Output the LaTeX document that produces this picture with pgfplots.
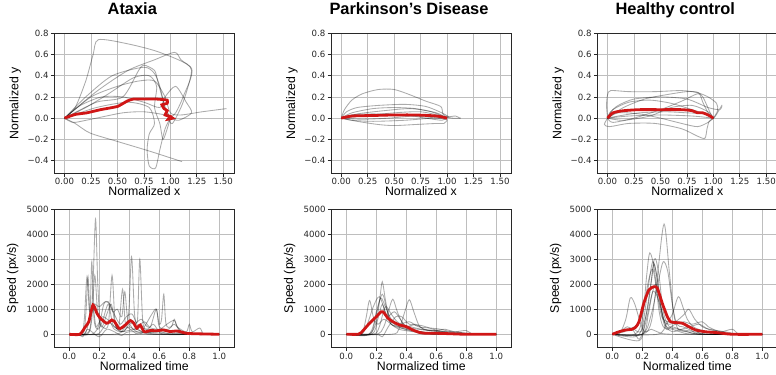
\documentclass[border=0pt]{standalone}
\usepackage{pgfplots}
\pgfplotsset{compat=1.18}
\usepackage{fontspec}
\setmainfont{Liberation Sans}
\newfontfamily\tickfamily{DejaVu Sans}

\definecolor{meanred}{RGB}{208,22,22}
\definecolor{gridgray}{RGB}{190,190,190}
\definecolor{spine}{RGB}{40,40,40}

\pgfplotsset{
  panel/.style={
    scale only axis, width=180bp,
    axis line style={spine, line width=0.8bp},
    grid=major, grid style={gridgray, line width=0.8bp},
    tick align=outside, major tick length=3.5bp, tick pos=left,
    tick style={spine, line width=0.8bp},
    /pgf/number format/assume math mode=true,
    ticklabel style={font=\tickfamily\fontsize{8.6bp}{10bp}\selectfont, text=black!85},
    xticklabel style={anchor=base, inner sep=0pt},
    yticklabel style={anchor=east, inner sep=0pt, xshift=-2bp},
    label style={font=\fontsize{12.3bp}{14bp}\selectfont},
    title style={font=\bfseries\fontsize{16.4bp}{18bp}\selectfont,
      at={(0.5,1)}, anchor=base, yshift=12.8bp, xshift=-12bp},
    clip=true,
  },
  trajrow/.style={panel, height=140bp,
    xmin=-0.097, xmax=1.604, ymin=-0.52, ymax=0.8,
    xtick={0,0.25,0.5,0.75,1,1.25,1.5},
    xticklabels={0.00,0.25,0.50,0.75,1.00,1.25,1.50},
    ytick={-0.4,-0.2,0,0.2,0.4,0.6,0.8},
    yticklabels={−0.4,−0.2,0.0,0.2,0.4,0.6,0.8},
    xticklabel style={yshift=-7.5bp},
    xlabel={Normalized x}, ylabel={Normalized y},
    xlabel style={at={(0.5,0)}, anchor=base, yshift=-22.5bp},
    ylabel style={at={(-0.2167,0.5)}, anchor=center},
  },
  speedrow/.style={panel, height=138.3bp,
    xmin=-0.1, xmax=1.1, ymin=-520, ymax=5000,
    xtick={0,0.2,0.4,0.6,0.8,1},
    xticklabels={0.0,0.2,0.4,0.6,0.8,1.0},
    ytick={0,1000,2000,3000,4000,5000},
    yticklabels={0,1000,2000,3000,4000,5000},
    xticklabel style={yshift=-8.8bp},
    xlabel={Normalized time}, ylabel={Speed (px/s)},
    xlabel style={at={(0.5,0)}, anchor=base, yshift=-23.4bp},
    ylabel style={at={(-0.2306,0.5)}, anchor=center},
  },
  trial/.style={black, opacity=0.33, line width=0.85bp, smooth, tension=0.45, mark=none},
  spd/.style={black, opacity=0.33, line width=0.85bp, smooth, tension=0.5, mark=none},
  mean/.style={meanred, line width=2.8bp, smooth, tension=0.4, mark=none},
}

\begin{document}
\begin{tikzpicture}

% ---------------- Ataxia: trajectories ----------------
\begin{axis}[trajrow, title={Ataxia}, at={(54.3bp,-173.3bp)}, anchor=south west]
\addplot[trial] coordinates {(0,0)(0.1,0.1)(0.2,0.35)(0.27,0.6)(0.32,0.74)(0.6,0.7)(0.9,0.62)(1.2,0.47)(1.12,0.2)(1.05,0.05)(1.0,0.0)};
\addplot[trial] coordinates {(0,0)(0.3,0.25)(0.6,0.45)(0.85,0.55)(1.04,0.62)(1.1,0.55)(1.2,0.45)(1.12,0.15)(1.02,-0.05)(0.98,0.0)};
\addplot[trial] coordinates {(0,0)(0.2,0.2)(0.45,0.4)(0.75,0.48)(0.85,0.42)(0.9,0.3)(0.95,0.1)(1.0,0.0)};
\addplot[trial] coordinates {(0,0)(0.25,0.2)(0.5,0.3)(0.7,0.35)(0.85,0.35)(0.95,0.2)(1.0,0.05)(1.1,0.03)(1.3,0.06)(1.53,0.09)};
\addplot[trial] coordinates {(0,0)(0.1,-0.05)(0.24,-0.14)(0.5,-0.22)(0.8,-0.31)(1.11,-0.41)};
\addplot[trial] coordinates {(0,0)(0.3,0.1)(0.6,0.15)(0.8,0.1)(0.85,-0.05)(0.8,-0.15)(0.78,-0.3)(0.8,-0.45)(0.86,-0.47)(0.9,-0.3)(0.95,-0.1)(1.0,0.0)};
\addplot[trial] coordinates {(0,0)(0.15,0.12)(0.35,0.2)(0.55,0.2)(0.75,0.15)(0.9,0.1)(0.95,0.2)(1.05,0.3)(1.15,0.15)(1.2,0.05)(1.08,-0.02)(1.0,0.0)};
\addplot[trial] coordinates {(0,0)(0.2,0.1)(0.4,0.22)(0.65,0.38)(0.8,0.4)(0.87,0.3)(0.85,0.1)(0.9,-0.05)(0.93,-0.2)(0.97,-0.1)(1.0,0.0)};
\addplot[trial] coordinates {(0,0)(0.05,-0.03)(0.1,-0.04)(0.3,0.0)(0.55,0.05)(0.75,0.06)(0.95,0.03)(1.0,0.0)};
\addplot[trial] coordinates {(0,0)(0.3,0.15)(0.55,0.2)(0.7,0.45)(0.75,0.5)(0.85,0.45)(0.88,0.35)(0.95,0.1)(1.0,0.0)};
\addplot[mean, tension=0.2] coordinates {(0,0)(0.1,0.035)(0.21,0.05)(0.34,0.08)(0.5,0.11)(0.59,0.16)(0.65,0.18)(0.87,0.18)(0.97,0.17)(0.97,0.14)(0.92,0.126)(0.94,0.09)(0.97,0.07)(0.95,0.03)(1.0,0.016)(0.98,-0.01)(1.02,0.0)(1.0,0.01)};
\end{axis}

% ---------------- Parkinson's: trajectories ----------------
\begin{axis}[trajrow, title={Parkinson’s Disease}, at={(331bp,-173.3bp)}, anchor=south west]
\addplot[trial] coordinates {(0,0)(0.03,0.08)(0.1,0.17)(0.2,0.23)(0.35,0.27)(0.5,0.27)(0.65,0.22)(0.8,0.16)(0.94,0.11)(0.96,0.04)(1.0,0.01)};
\addplot[trial] coordinates {(0,0)(0.05,0.06)(0.15,0.1)(0.35,0.12)(0.6,0.13)(0.8,0.11)(0.95,0.05)(1.02,0.01)};
\addplot[trial] coordinates {(0,0)(0.1,0.05)(0.3,0.09)(0.5,0.1)(0.7,0.09)(0.9,0.05)(1.0,0.0)};
\addplot[trial] coordinates {(0,0)(0.15,-0.03)(0.35,-0.06)(0.5,-0.07)(0.7,-0.06)(0.9,-0.05)(0.97,-0.05)(1.0,-0.02)};
\addplot[trial] coordinates {(0,0)(0.2,0.02)(0.5,0.05)(0.75,0.06)(0.95,0.02)(1.05,0.0)(1.13,0.0)};
\addplot[trial] coordinates {(0,0)(0.1,-0.02)(0.3,-0.03)(0.6,-0.02)(0.85,0.0)(1.0,0.01)(1.08,0.02)(1.12,0.0)};
\addplot[trial] coordinates {(0,0)(0.15,0.04)(0.4,0.07)(0.65,0.09)(0.85,0.06)(1.0,0.0)};
\addplot[trial] coordinates {(0,0)(0.2,-0.01)(0.45,0.0)(0.7,0.02)(0.9,0.0)(1.0,-0.01)};
\addplot[trial] coordinates {(0,0)(0.1,0.03)(0.3,0.04)(0.6,0.03)(0.8,0.0)(0.95,-0.02)(1.0,0.0)};
\addplot[mean] coordinates {(0,0)(0.1,0.02)(0.3,0.025)(0.5,0.03)(0.7,0.03)(0.9,0.02)(1.0,0.0)};
\end{axis}

% ---------------- Healthy control: trajectories ----------------
\begin{axis}[trajrow, title={Healthy control}, at={(597.3bp,-173.3bp)}, anchor=south west]
\addplot[trial] coordinates {(0,0)(-0.01,0.12)(0.0,0.22)(0.03,0.26)(0.2,0.25)(0.45,0.25)(0.7,0.26)(0.85,0.24)(0.95,0.2)(1.03,0.14)(1.04,0.07)(1.0,0.0)};
\addplot[trial] coordinates {(0,0)(-0.03,-0.06)(0.02,-0.08)(0.2,-0.05)(0.45,-0.05)(0.7,-0.1)(0.85,-0.17)(0.92,-0.19)(0.94,-0.1)(0.96,-0.03)(1.0,0.0)};
\addplot[trial] coordinates {(0,0)(0.15,0.1)(0.35,0.18)(0.55,0.22)(0.75,0.25)(0.86,0.24)(0.9,0.15)(0.95,0.05)(1.0,0.0)};
\addplot[trial] coordinates {(0,0)(0.05,-0.04)(0.25,0.0)(0.5,0.08)(0.7,0.16)(0.85,0.23)(0.9,0.2)(0.97,0.05)(1.0,0.0)};
\addplot[trial] coordinates {(0,0)(0.05,0.08)(0.2,0.15)(0.4,0.17)(0.6,0.14)(0.8,0.08)(0.95,0.03)(1.0,0.0)};
\addplot[trial] coordinates {(0,0)(0.2,0.02)(0.5,0.03)(0.8,0.02)(1.0,0.0)};
\addplot[trial] coordinates {(0,0)(0.1,0.05)(0.3,0.04)(0.5,0.0)(0.7,-0.05)(0.85,-0.08)(0.95,-0.04)(1.0,0.0)};
\addplot[trial] coordinates {(0,0)(0.02,0.05)(0.1,0.12)(0.25,0.18)(0.5,0.2)(0.75,0.18)(0.95,0.1)(1.06,0.08)(1.08,0.12)(1.02,0.02)(1.0,0.0)};
\addplot[trial] coordinates {(0,0)(0.1,0.02)(0.3,0.05)(0.55,0.06)(0.75,0.05)(0.92,0.04)(1.0,0.0)};
\addplot[trial] coordinates {(0,0)(0.15,-0.02)(0.4,0.02)(0.6,0.1)(0.8,0.12)(0.95,0.06)(1.0,0.0)};
\addplot[mean] coordinates {(0,0)(0.05,0.05)(0.15,0.07)(0.3,0.08)(0.5,0.08)(0.7,0.08)(0.8,0.07)(0.85,0.05)(0.9,0.05)(0.95,0.03)(1.0,0.0)};
\end{axis}

% ---------------- Ataxia: speed ----------------
\begin{axis}[speedrow, at={(54.3bp,-347.3bp)}, anchor=south west]
\addplot[spd] coordinates {(0,0)(0.1,0)(0.14,300)(0.158,2000)(0.175,4600)(0.19,2000)(0.21,300)(0.25,800)(0.28,1200)(0.31,300)(0.35,100)(0.4,300)(0.45,100)(0.5,50)(0.6,100)(0.7,0)(1,0)};
\addplot[spd] coordinates {(0,0)(0.09,0)(0.11,800)(0.125,2300)(0.138,800)(0.15,2900)(0.165,600)(0.19,200)(0.22,500)(0.26,1200)(0.29,400)(0.33,200)(0.38,300)(0.43,100)(0.5,0)(1,0)};
\addplot[spd] coordinates {(0,0)(0.12,0)(0.15,600)(0.17,2350)(0.19,800)(0.22,300)(0.26,400)(0.285,2350)(0.305,500)(0.33,300)(0.355,1800)(0.375,400)(0.41,600)(0.45,200)(0.5,100)(0.6,0)(1,0)};
\addplot[spd] coordinates {(0,0)(0.3,0)(0.36,200)(0.395,800)(0.415,3100)(0.435,800)(0.455,600)(0.47,3000)(0.49,500)(0.52,200)(0.56,400)(0.6,100)(0.65,0)(1,0)};
\addplot[spd] coordinates {(0,0)(0.45,0)(0.5,300)(0.55,800)(0.58,1000)(0.6,400)(0.615,600)(0.63,1600)(0.645,400)(0.68,300)(0.7,600)(0.72,300)(0.78,100)(0.8,400)(0.82,100)(0.87,250)(0.9,0)(1,0)};
\addplot[spd] coordinates {(0,0)(0.1,0)(0.13,500)(0.16,1200)(0.2,1100)(0.24,1300)(0.27,1200)(0.3,800)(0.34,400)(0.38,700)(0.42,800)(0.46,300)(0.52,200)(0.6,150)(0.7,100)(0.8,0)(1,0)};
\addplot[spd] coordinates {(0,0)(0.15,0)(0.2,400)(0.23,1200)(0.26,1300)(0.29,900)(0.32,1000)(0.35,700)(0.37,1700)(0.39,600)(0.43,400)(0.48,600)(0.52,300)(0.6,200)(0.65,400)(0.7,550)(0.73,200)(0.8,0)(1,0)};
\addplot[spd] coordinates {(0,0)(0.08,0)(0.1,600)(0.118,2300)(0.135,900)(0.16,1000)(0.18,300)(0.22,700)(0.27,500)(0.3,200)(0.35,100)(0.45,200)(0.55,0)(1,0)};
\addplot[spd] coordinates {(0,0)(0.18,0)(0.22,200)(0.26,500)(0.3,300)(0.36,100)(0.4,400)(0.43,200)(0.5,500)(0.54,300)(0.58,1000)(0.6,300)(0.66,200)(0.7,400)(0.75,100)(0.85,0)(1,0)};
\addplot[spd] coordinates {(0,0)(0.06,0)(0.09,-100)(0.12,200)(0.15,100)(0.2,-100)(0.25,200)(0.3,100)(0.35,-50)(0.4,100)(0.6,50)(1,0)};
\addplot[mean] coordinates {(0,0)(0.07,0)(0.107,300)(0.13,500)(0.158,1170)(0.184,840)(0.207,640)(0.25,440)(0.284,570)(0.3,520)(0.33,240)(0.35,260)(0.373,370)(0.407,545)(0.43,440)(0.45,240)(0.473,370)(0.5,100)(0.54,150)(0.58,140)(0.63,170)(0.67,110)(0.72,130)(0.78,40)(0.85,20)(1,0)};
\end{axis}

% ---------------- Parkinson's: speed ----------------
\begin{axis}[speedrow, at={(331.3bp,-347.3bp)}, anchor=south west]
\addplot[spd] coordinates {(0,0)(0.1,0)(0.14,400)(0.18,1100)(0.22,1500)(0.26,900)(0.3,400)(0.36,300)(0.42,200)(0.5,100)(0.6,50)(0.7,0)(1,0)};
\addplot[spd] coordinates {(0,0)(0.15,0)(0.2,500)(0.225,1500)(0.24,2100)(0.26,1400)(0.29,500)(0.33,300)(0.4,200)(0.5,100)(0.6,0)(1,0)};
\addplot[spd] coordinates {(0,0)(0.1,0)(0.13,600)(0.155,1350)(0.18,700)(0.21,400)(0.25,600)(0.3,400)(0.35,200)(0.45,100)(0.55,0)(1,0)};
\addplot[spd] coordinates {(0,0)(0.2,0)(0.25,300)(0.28,900)(0.31,1400)(0.34,900)(0.38,400)(0.43,300)(0.5,200)(0.55,150)(0.62,100)(0.7,0)(1,0)};
\addplot[spd] coordinates {(0,0)(0.3,0)(0.35,200)(0.39,900)(0.42,1380)(0.45,900)(0.49,300)(0.55,150)(0.65,100)(0.75,0)(1,0)};
\addplot[spd] coordinates {(0,0)(0.15,0)(0.2,800)(0.23,1450)(0.26,1100)(0.3,600)(0.35,400)(0.42,500)(0.48,300)(0.56,250)(0.63,200)(0.7,100)(0.8,50)(0.9,0)(1,0)};
\addplot[spd] coordinates {(0,0)(0.17,0)(0.21,600)(0.24,1200)(0.27,700)(0.32,900)(0.36,600)(0.4,300)(0.48,200)(0.58,150)(0.66,200)(0.72,100)(0.8,150)(0.85,0)(1,0)};
\addplot[spd] coordinates {(0,0)(0.2,0)(0.24,-100)(0.28,300)(0.33,700)(0.37,700)(0.42,400)(0.5,350)(0.58,200)(0.65,100)(0.75,50)(0.82,0)(1,0)};
\addplot[spd] coordinates {(0,0)(0.18,0)(0.22,300)(0.26,1100)(0.3,800)(0.34,500)(0.4,300)(0.46,400)(0.52,200)(0.6,150)(0.68,100)(0.76,80)(0.82,0)(1,0)};
\addplot[spd] coordinates {(0,0)(0.16,0)(0.2,900)(0.24,1600)(0.27,1000)(0.3,500)(0.35,300)(0.42,150)(0.5,100)(0.6,0)(1,0)};
\addplot[mean] coordinates {(0,0)(0.08,0)(0.1,70)(0.155,440)(0.2,700)(0.233,900)(0.25,865)(0.278,640)(0.311,500)(0.356,370)(0.4,305)(0.444,170)(0.49,70)(0.53,40)(0.6,40)(0.7,20)(0.8,0)(1,0)};
\end{axis}

% ---------------- Healthy control: speed ----------------
\begin{axis}[speedrow, at={(597.3bp,-347.3bp)}, anchor=south west]
\addplot[spd] coordinates {(0,0)(0.05,50)(0.09,600)(0.12,1450)(0.15,1200)(0.19,400)(0.22,100)(0.26,200)(0.3,100)(0.4,0)(1,0)};
\addplot[spd] coordinates {(0,0)(0.15,0)(0.2,600)(0.23,2400)(0.25,3250)(0.28,2600)(0.31,1000)(0.34,300)(0.4,200)(0.45,100)(0.55,0)(1,0)};
\addplot[spd] coordinates {(0,0)(0.2,0)(0.26,500)(0.3,2300)(0.345,4400)(0.38,2500)(0.41,800)(0.44,200)(0.5,100)(0.6,0)(1,0)};
\addplot[spd] coordinates {(0,0)(0.15,-100)(0.2,300)(0.24,1900)(0.27,2900)(0.3,2200)(0.33,800)(0.36,200)(0.4,300)(0.45,200)(0.55,100)(0.65,0)(1,0)};
\addplot[spd] coordinates {(0,0)(0.18,-250)(0.22,600)(0.26,2100)(0.28,2800)(0.31,1800)(0.34,600)(0.38,400)(0.44,500)(0.5,300)(0.56,150)(0.62,0)(1,0)};
\addplot[spd] coordinates {(0,0)(0.2,0)(0.26,800)(0.31,2200)(0.34,2900)(0.37,2500)(0.4,1200)(0.43,400)(0.47,300)(0.53,150)(0.6,0)(1,0)};
\addplot[spd] coordinates {(0,0)(0.3,0)(0.36,400)(0.4,800)(0.44,1500)(0.47,1100)(0.5,600)(0.54,300)(0.6,150)(0.7,0)(1,0)};
\addplot[spd] coordinates {(0,0)(0.1,200)(0.15,300)(0.2,800)(0.24,2100)(0.27,2600)(0.3,1600)(0.33,700)(0.37,500)(0.42,500)(0.48,800)(0.51,1000)(0.55,600)(0.6,300)(0.65,200)(0.75,100)(0.85,0)(1,0)};
\addplot[spd] coordinates {(0,0)(0.05,100)(0.1,300)(0.14,150)(0.18,-200)(0.22,400)(0.26,1500)(0.29,2000)(0.32,1200)(0.36,300)(0.42,400)(0.48,500)(0.53,400)(0.6,500)(0.64,300)(0.72,100)(0.8,200)(0.85,0)(1,0)};
\addplot[spd] coordinates {(0,0)(0.2,0)(0.24,800)(0.27,1700)(0.3,1500)(0.33,900)(0.36,300)(0.4,100)(0.46,200)(0.52,300)(0.58,400)(0.64,200)(0.72,100)(0.8,0)(1,0)};
\addplot[spd] coordinates {(0,0)(0.08,100)(0.13,250)(0.17,100)(0.2,200)(0.24,1200)(0.28,3000)(0.31,2400)(0.34,900)(0.38,300)(0.44,200)(0.5,100)(0.6,0)(1,0)};
\addplot[mean] coordinates {(0,0)(0.044,100)(0.089,170)(0.133,200)(0.155,280)(0.178,500)(0.21,1240)(0.244,1770)(0.278,1900)(0.3,1840)(0.333,1240)(0.367,700)(0.389,500)(0.42,470)(0.467,440)(0.511,300)(0.556,170)(0.62,100)(0.69,70)(0.8,0)(1,0)};
\end{axis}

\pgfresetboundingbox
\path[use as bounding box] (0bp,0bp) rectangle (776bp,-375bp);
\end{tikzpicture}
\end{document}
